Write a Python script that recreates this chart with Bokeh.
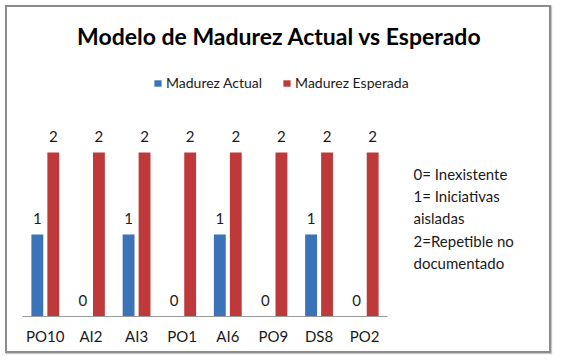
from bokeh.plotting import figure
from bokeh.models import ColumnDataSource, LabelSet, Label, Legend, LegendItem, Range1d, FixedTicker
from bokeh.core.properties import value
from bokeh.embed import file_html
from bokeh.resources import INLINE

categories = ["PO10", "AI2", "AI3", "PO1", "AI6", "PO9", "DS8", "PO2"]
actual = [1, 0, 1, 0, 1, 0, 1, 0]
expected = [2, 2, 2, 2, 2, 2, 2, 2]
series_names = ["Madurez Actual", "Madurez Esperada"]
title_text = "Modelo de Madurez Actual vs Esperado"
notes = ["0= Inexistente", "1= Iniciativas", "aisladas", "2=Repetible no", "documentado"]

FONT = "Lato"
BLUE = "#3B73B9"
RED = "#BE3A3A"
TXT = "#1a1a1a"

# layout (pixels inside the bordered figure)
W, H = 546, 348
BASE = 309          # y pixel of the category axis (bottom of frame)
PPX = 365 / len(categories)   # pixels per category
PPY = 82.0          # pixels per maturity unit
AX_LEFT = 15        # x pixel where the category axis starts
x0 = -AX_LEFT / PPX

def px_x(cx):
    return x0 + cx / PPX

def px_y(cy):
    return (BASE - cy) / PPY

pos = [i + 0.5 for i in range(len(categories))]
OFF = 0.175
src = ColumnDataSource(dict(
    xa=[v - OFF for v in pos], xe=[v + OFF for v in pos],
    actual=actual, expected=expected,
    actual_txt=[str(v) for v in actual], expected_txt=[str(v) for v in expected],
))

p = figure(x_range=Range1d(x0, x0 + W / PPX), y_range=Range1d(0, BASE / PPY),
           width=W, height=H, output_backend="svg", toolbar_location=None,
           min_border_left=0, min_border_right=0, min_border_top=0, min_border_bottom=H - BASE)
p.styles = {"border": "2px solid #8c8c8c", "box-shadow": "1px 1px 1px #c8c8c8",
            "margin": "5px 0 0 5px"}
p.outline_line_color = None
p.xgrid.grid_line_color = None
p.ygrid.grid_line_color = None
p.yaxis.visible = False
xa = p.xaxis[0]
xa.ticker = FixedTicker(ticks=pos)
xa.major_label_overrides = {v: c for v, c in zip(pos, categories)}
xa.bounds = (0, len(categories))
xa.axis_line_color = "#9a9a9a"
xa.major_tick_line_color = None
xa.minor_tick_line_color = None
xa.major_label_text_font = FONT
xa.major_label_text_font_size = "15px"
xa.major_label_text_color = TXT
xa.major_label_standoff = 4

r1 = p.vbar(x="xa", top="actual", width=0.26, source=src, fill_color=BLUE, line_color=None)
r2 = p.vbar(x="xe", top="expected", width=0.26, source=src, fill_color=RED, line_color=None)

for xcol, col, txt in [("xa", "actual", "actual_txt"), ("xe", "expected", "expected_txt")]:
    p.add_layout(LabelSet(x=xcol, y=col, text=txt, source=src,
                          text_align="center", text_baseline="alphabetic", y_offset=11,
                          text_font=value(FONT), text_font_size="15px", text_color=TXT))

p.add_layout(Label(x=px_x(272), y=px_y(28), text=title_text,
                   text_align="center", text_baseline="middle", text_font=FONT,
                   text_font_size="23px", text_font_style="bold", text_color="#000000"))

for i, t in enumerate(notes):
    p.add_layout(Label(x=px_x(406), y=px_y(166 + i * 22.4), text=t,
                       text_align="left", text_baseline="middle", text_font=FONT,
                       text_font_size="15px", text_color=TXT))

legend = Legend(items=[LegendItem(label=series_names[0], renderers=[r1]),
                       LegendItem(label=series_names[1], renderers=[r2])],
                location=(146, 225), orientation="horizontal",
                label_text_font=FONT, label_text_font_size="14px", label_text_color=TXT,
                glyph_width=9, glyph_height=8, label_standoff=4, spacing=20,
                padding=0, margin=0, border_line_color=None, background_fill_alpha=0)
p.add_layout(legend, "center")

open("out.html", "w").write(file_html(p, INLINE))
